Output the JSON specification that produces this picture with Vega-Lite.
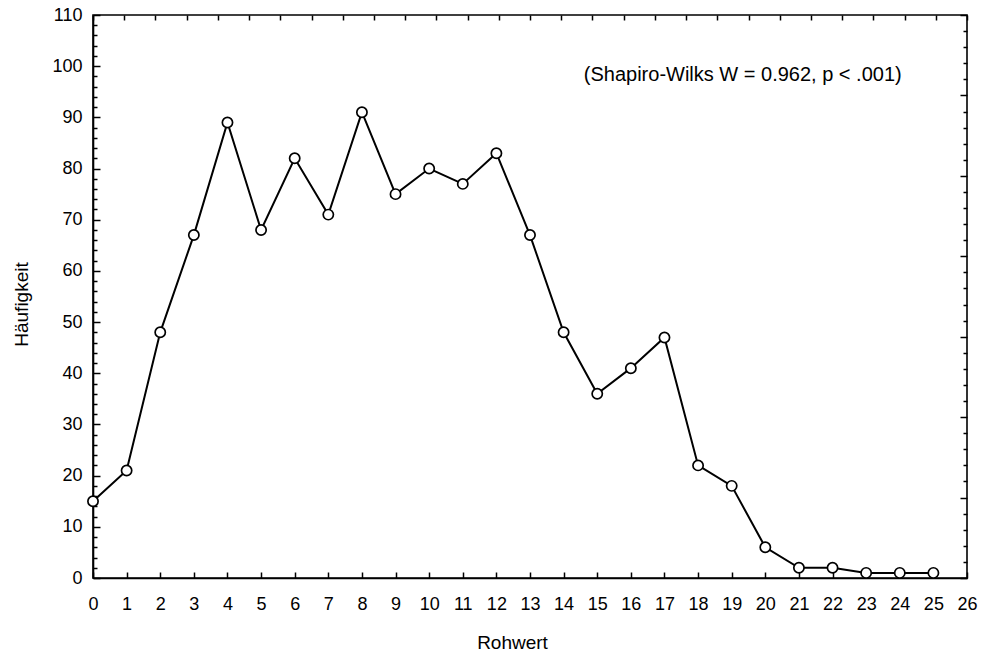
{
  "$schema": "https://vega.github.io/schema/vega-lite/v6.json",
  "width": 874,
  "height": 563,
  "autosize": {"type": "none"},
  "padding": {"left": 93, "top": 15, "right": 16, "bottom": 75},
  "background": "white",
  "config": {
    "view": {"stroke": "black", "strokeWidth": 1.6},
    "font": "Liberation Sans",
    "axis": {
      "grid": false,
      "domainColor": "black",
      "domainWidth": 1.6,
      "tickColor": "black",
      "tickWidth": 1.5,
      "labelFont": "Liberation Sans",
      "labelFontSize": 18,
      "labelColor": "black",
      "titleFont": "Liberation Sans",
      "titleFontSize": 19,
      "titleFontWeight": "normal",
      "titleColor": "black"
    }
  },
  "data": {
    "values": [
      {"Rohwert": 0, "Haeufigkeit": 15},
      {"Rohwert": 1, "Haeufigkeit": 21},
      {"Rohwert": 2, "Haeufigkeit": 48},
      {"Rohwert": 3, "Haeufigkeit": 67},
      {"Rohwert": 4, "Haeufigkeit": 89},
      {"Rohwert": 5, "Haeufigkeit": 68},
      {"Rohwert": 6, "Haeufigkeit": 82},
      {"Rohwert": 7, "Haeufigkeit": 71},
      {"Rohwert": 8, "Haeufigkeit": 91},
      {"Rohwert": 9, "Haeufigkeit": 75},
      {"Rohwert": 10, "Haeufigkeit": 80},
      {"Rohwert": 11, "Haeufigkeit": 77},
      {"Rohwert": 12, "Haeufigkeit": 83},
      {"Rohwert": 13, "Haeufigkeit": 67},
      {"Rohwert": 14, "Haeufigkeit": 48},
      {"Rohwert": 15, "Haeufigkeit": 36},
      {"Rohwert": 16, "Haeufigkeit": 41},
      {"Rohwert": 17, "Haeufigkeit": 47},
      {"Rohwert": 18, "Haeufigkeit": 22},
      {"Rohwert": 19, "Haeufigkeit": 18},
      {"Rohwert": 20, "Haeufigkeit": 6},
      {"Rohwert": 21, "Haeufigkeit": 2},
      {"Rohwert": 22, "Haeufigkeit": 2},
      {"Rohwert": 23, "Haeufigkeit": 1},
      {"Rohwert": 24, "Haeufigkeit": 1},
      {"Rohwert": 25, "Haeufigkeit": 1}
    ]
  },
  "layer": [
    {
      "encoding": {
        "x": {
          "field": "Rohwert",
          "type": "quantitative",
          "scale": {"domain": [0, 26], "nice": false, "zero": false},
          "axis": {
            "title": "Rohwert",
            "orient": "bottom",
            "values": [0,1,2,3,4,5,6,7,8,9,10,11,12,13,14,15,16,17,18,19,20,21,22,23,24,25,26],
            "tickSize": -6,
            "labelPadding": 23,
            "labelFlush": false,
            "titleX": 419,
            "titleY": 70,
            "titleBaseline": "alphabetic",
            "titleAnchor": "middle",
            "titleAlign": "center"
          }
        },
        "y": {
          "field": "Haeufigkeit",
          "type": "quantitative",
          "scale": {"domain": [0, 110], "nice": false},
          "axis": {
            "title": "Häufigkeit",
            "orient": "left",
            "values": [0,2,4,6,8,10,12,14,16,18,20,22,24,26,28,30,32,34,36,38,40,42,44,46,48,50,52,54,56,58,60,62,64,66,68,70,72,74,76,78,80,82,84,86,88,90,92,94,96,98,100,102,104,106,108,110],
            "labelExpr": "datum.value % 10 === 0 ? datum.label : ''",
            "tickSize": {"condition": {"test": "datum.value % 10 === 0", "value": -7}, "value": -4},
            "labelPadding": 18,
            "labelFlush": false,
            "titleX": -62,
            "titleY": 289,
            "titleBaseline": "bottom",
            "titleAngle": -90,
            "titleAlign": "center"
          }
        }
      },
      "layer": [
        {
          "mark": {"type": "line", "color": "black", "strokeWidth": 2}
        },
        {
          "mark": {"type": "point", "filled": true, "fill": "white", "stroke": "black", "strokeWidth": 1.7, "size": 105, "opacity": 1}
        },
        {
          "transform": [{"filter": "datum.Rohwert === 0"}],
          "mark": {"type": "text", "align": "left", "baseline": "middle", "fontSize": 20, "font": "Liberation Sans", "color": "black"},
          "encoding": {
            "x": {"datum": 14.6},
            "y": {"datum": 98.3},
            "text": {"value": "(Shapiro-Wilks W = 0.962, p < .001)"}
          }
        }
      ]
    },
    {
      "mark": {"type": "point", "opacity": 0, "clip": true},
      "encoding": {
        "x": {
          "field": "Rohwert",
          "type": "quantitative",
          "scale": {"domain": [0, 28], "nice": false, "zero": false},
          "axis": {
            "title": null,
            "orient": "top",
            "labels": false,
            "domain": false,
            "values": [0,1,2,3,4,5,6,7,8,9,10,11,12,13,14,15,16,17,18,19,20,21,22,23,24,25,26,27,28],
            "tickSize": -5
          }
        },
        "y": {
          "field": "Haeufigkeit",
          "type": "quantitative",
          "scale": {"domain": [0, 35], "nice": false},
          "axis": {
            "title": null,
            "orient": "right",
            "labels": false,
            "domain": false,
            "values": [0,1,2,3,4,5,6,7,8,9,10,11,12,13,14,15,16,17,18,19,20,21,22,23,24,25,26,27,28,29,30,31,32,33,34,35],
            "tickSize": {"condition": {"test": "datum.value % 5 === 0", "value": -7}, "value": -4}
          }
        }
      }
    }
  ],
  "resolve": {"scale": {"x": "independent", "y": "independent"}}
}
